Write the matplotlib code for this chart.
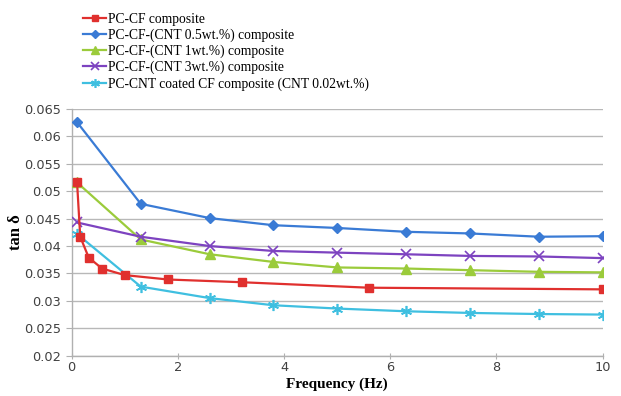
import matplotlib
matplotlib.use("Agg")
import matplotlib.pyplot as plt
from matplotlib.ticker import FixedLocator

# Data
freq_red = [0.1, 0.16, 0.32, 0.57, 1.0, 1.81, 3.2, 5.6, 10]
pc_cf = [0.0517, 0.0417, 0.0379, 0.0359, 0.0347, 0.0339, 0.0334, 0.0324, 0.0321]

freq = [0.1, 1.3, 2.6, 3.8, 5.0, 6.3, 7.5, 8.8, 10]
cnt05 = [0.0626, 0.0477, 0.0451, 0.0438, 0.0433, 0.0426, 0.0423, 0.0417, 0.0418]
cnt1 = [0.0516, 0.0412, 0.0385, 0.0371, 0.0361, 0.0359, 0.0356, 0.0353, 0.0352]
cnt3 = [0.0443, 0.0417, 0.0400, 0.0391, 0.0388, 0.0385, 0.0382, 0.0381, 0.0378]
coated = [0.0422, 0.0326, 0.0305, 0.0292, 0.0286, 0.0281, 0.0278, 0.0276, 0.0275]

labels = ["PC-CF composite",
          "PC-CF-(CNT 0.5wt.%) composite",
          "PC-CF-(CNT 1wt.%) composite",
          "PC-CF-(CNT 3wt.%) composite",
          "PC-CNT coated CF composite (CNT 0.02wt.%)"]
yticks = [0.02, 0.025, 0.03, 0.035, 0.04, 0.045, 0.05, 0.055, 0.06, 0.065]
xticks = [0, 2, 4, 6, 8, 10]

fig = plt.figure(figsize=(6.21, 3.96), dpi=100)
ax = fig.add_axes([0.1155, 0.1018, 0.855, 0.6229])

ax.plot(freq_red, pc_cf, color="#e0302e", marker="s", ms=6, lw=1.6, label=labels[0], zorder=5)
ax.plot(freq, cnt05, color="#3a7bd5", marker="D", ms=5, lw=1.6, label=labels[1], zorder=4)
ax.plot(freq, cnt1, color="#9bcb3b", marker="^", ms=6.5, lw=1.6, label=labels[2], zorder=4)
ax.plot(freq, cnt3, color="#7d43c0", marker="x", ms=6.5, mew=1.2, lw=1.6, label=labels[3], zorder=4)
ax.plot(freq, coated, color="#3fbfe0", marker=(6, 2, 0), ms=8, mew=1.2, lw=1.6, label=labels[4], zorder=4)

ax.set_xlim(0, 10)
ax.set_ylim(0.02, 0.065)
ax.yaxis.set_major_locator(FixedLocator(yticks))
ax.xaxis.set_major_locator(FixedLocator(xticks))
ax.set_yticklabels([f"{v:g}" for v in yticks])
ax.set_xticklabels([str(v) for v in xticks])
ax.grid(axis="y", color="#b8b8b8", lw=1.0)
ax.set_axisbelow(True)
for s in ["top", "right"]:
    ax.spines[s].set_visible(False)
for s in ["left", "bottom"]:
    ax.spines[s].set_color("#b0b0b0")
    ax.spines[s].set_linewidth(1.0)
ax.tick_params(axis="both", colors="#b0b0b0", labelcolor="#404040", labelsize=9.3, length=4)
ax.tick_params(axis="x", direction="inout", pad=2)

ax.set_xlabel("Frequency (Hz)", family="Liberation Serif", fontweight="bold", fontsize=11, labelpad=2)
ax.set_ylabel("tan δ", family="Liberation Serif", fontweight="bold", fontsize=12)
ax.yaxis.set_label_coords(-0.09, 0.5)

leg = fig.legend(loc="upper left", bbox_to_anchor=(0.123, 0.985), frameon=False,
                 prop={"family": "Liberation Serif", "size": 9.8},
                 handlelength=1.7, handletextpad=0.1, labelspacing=0.2,
                 borderpad=0.0, markerscale=0.8)

fig.savefig("out.png", dpi=100)
